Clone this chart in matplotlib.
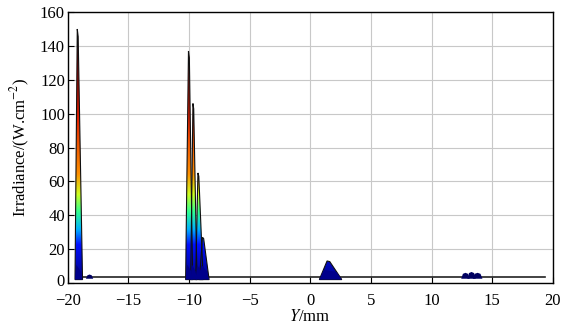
import numpy as np
import matplotlib.pyplot as plt
import matplotlib.transforms as mtransforms
from matplotlib.patches import Polygon
from matplotlib.colors import LinearSegmentedColormap

plt.rcParams['font.family'] = ['Liberation Serif', 'DejaVu Serif']
plt.rcParams['mathtext.fontset'] = 'stix'

# spike data: centre (mm), peak irradiance, left/right half width
spike_x = [-19.18, -10.0, -9.64, -9.23, -8.84, 1.5]
spike_h = [150, 137, 106, 65, 27, 13]
spike_wl = [0.22, 0.28, 0.22, 0.22, 0.3, 0.75]
spike_wr = [0.4, 0.3, 0.3, 0.4, 0.5, 1.1]

# low blobs sitting on the baseline
blob_x = [-18.2, 12.8, 13.3, 13.8]
blob_h = [5, 6, 6.5, 6]
blob_w = [0.3, 0.35, 0.35, 0.4]

base_x = [-19.0, 19.4]
base_y = [3.6, 3.6]

# colour by height, like the MATLAB jet shading in the picture
cm = LinearSegmentedColormap.from_list('shade', [
    (0.0, '#00007a'), (0.15, '#0010ff'), (0.21, '#00b0ff'), (0.28, '#30ff90'),
    (0.35, '#d0ff20'), (0.43, '#ff9000'), (0.65, '#e02000'), (0.85, '#900000'),
    (1.0, '#200000')])

fig = plt.figure(figsize=(5.74, 3.26), dpi=100)
ax = fig.add_axes([0.118, 0.132, 0.845, 0.831])

ax.grid(True, color='#c8c8c8', linewidth=0.8)
ax.set_axisbelow(True)

ax.plot(base_x, base_y, color='#222222', linewidth=1.2, zorder=2)

grad = np.linspace(0, 1, 256).reshape(-1, 1)
for c, h, wl, wr in zip(spike_x, spike_h, spike_wl, spike_wr):
    pts = [(c - wl, 2.0), (c - wl * 0.15, h), (c + wr * 0.1, h * 0.97), (c + wr, 2.0)]
    poly = Polygon(pts, closed=True, facecolor='none', edgecolor='#101010', linewidth=0.8, zorder=4)
    ax.add_patch(poly)
    im = ax.imshow(grad, extent=[c - wl, c + wr, 0, 150], origin='lower', cmap=cm,
                   aspect='auto', vmin=0, vmax=1, zorder=3)
    im.set_clip_path(poly)
    # dark blue base
    ax.fill([c - wl, c - wl * 0.5, c + wr * 0.6, c + wr], [2.0, min(h, 18) * 0.6, min(h, 14) * 0.5, 2.0],
            color='#00008b', zorder=5, linewidth=0)

for c, h, w in zip(blob_x, blob_h, blob_w):
    ax.fill([c - w, c - w * 0.6, c, c + w * 0.6, c + w], [2.5, h * 0.9, h, h * 0.9, 2.5],
            color='#000060', zorder=5, linewidth=0)

ax.set_xlim(-20, 20)
ax.set_ylim(0, 160)
ax.set_xticks(np.arange(-20, 21, 5))
ax.set_yticks(np.arange(0, 161, 20))
ax.set_xticklabels(['\u221220', '\u221215', '\u221210', '\u22125', '0', '5', '10', '15', '20'])
ax.tick_params(direction='in', labelsize=12, length=4)
ax.tick_params(axis='x', pad=7)
ax.tick_params(axis='y', pad=2)
for s in ax.spines.values():
    s.set_linewidth(1.0)
ax.set_xlabel('$Y$/mm', fontsize=12, labelpad=0)
ax.set_ylabel('Irradiance/(W.cm$^{-2}$)', fontsize=12, labelpad=6)

# nudge the y "0" label up a little so it clears the "-20"
fig.canvas.draw()
lab0 = ax.get_yticklabels()[0]
lab0.set_transform(lab0.get_transform() + mtransforms.ScaledTranslation(0, 3 / 100, fig.dpi_scale_trans))

fig.savefig('out.png', dpi=100)
